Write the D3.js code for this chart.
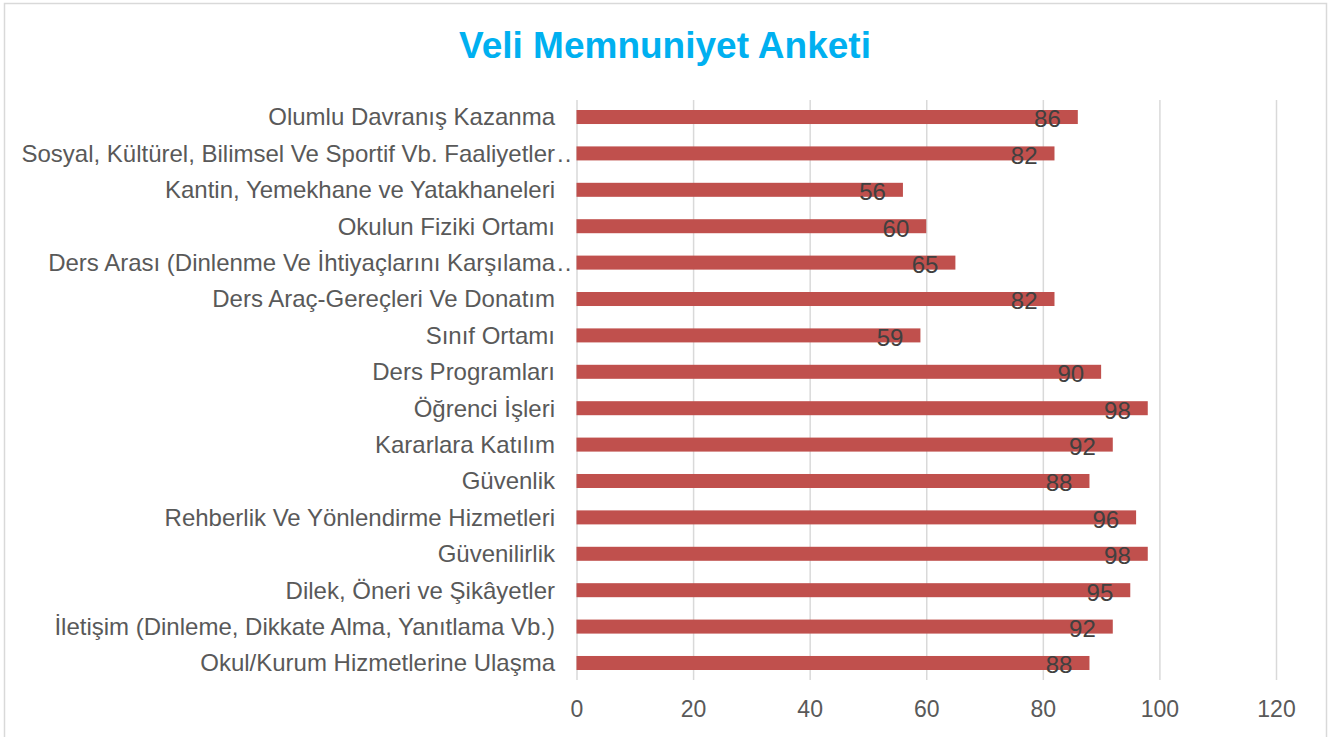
<html>
<head>
    <script src="https://d3js.org/d3.v7.min.js"></script>
    <style>
        body { margin: 0; background: #fff; }
        text { font-family: "Liberation Sans", Arial, sans-serif; }
    </style>
</head>
<body>
    <svg id="chart" width="1333" height="737"></svg>
    <script>
        // categories, top to bottom as shown
        const categories = [
            "Olumlu Davranış Kazanma",
            "Sosyal, Kültürel, Bilimsel Ve Sportif Vb. Faaliyetler..",
            "Kantin, Yemekhane ve Yatakhaneleri",
            "Okulun Fiziki Ortamı",
            "Ders Arası (Dinlenme Ve İhtiyaçlarını Karşılama..",
            "Ders Araç-Gereçleri Ve Donatım",
            "Sınıf Ortamı",
            "Ders Programları",
            "Öğrenci İşleri",
            "Kararlara Katılım",
            "Güvenlik",
            "Rehberlik Ve Yönlendirme Hizmetleri",
            "Güvenilirlik",
            "Dilek, Öneri ve Şikâyetler",
            "İletişim (Dinleme, Dikkate Alma, Yanıtlama Vb.)",
            "Okul/Kurum Hizmetlerine Ulaşma"
        ];
        const values = [86, 82, 56, 60, 65, 82, 59, 90, 98, 92, 88, 96, 98, 95, 92, 88];
        const xTicks = [0, 20, 40, 60, 80, 100, 120];
        const title = "Veli Memnuniyet Anketi";

        const data = categories.map((c, i) => ({ cat: c, val: values[i] }));

        const svg = d3.select("#chart");
        const plot = { left: 576.5, right: 1276, top: 100, bottom: 680 };

        // chart border
        svg.append("rect")
            .attr("x", 4.5).attr("y", 3.5)
            .attr("width", 1322).attr("height", 740)
            .attr("fill", "#fff")
            .attr("stroke", "#D9D9D9")
            .attr("stroke-width", 1.5);

        svg.append("text")
            .attr("x", 665).attr("y", 58)
            .attr("text-anchor", "middle")
            .attr("font-size", 37)
            .attr("font-weight", "bold")
            .attr("fill", "#00B0F0")
            .text(title);

        const x = d3.scaleLinear().domain([0, 120]).range([plot.left, plot.right]);
        const y = d3.scaleBand().domain(categories)
            .range([plot.top, plot.bottom])
            .paddingInner(0.615).paddingOuter(0.275);

        // vertical gridlines
        const grid = d3.axisBottom(x).tickValues(xTicks)
            .tickSize(-(plot.bottom - plot.top)).tickFormat("");
        svg.append("g")
            .attr("class", "gridlines")
            .attr("transform", "translate(0," + plot.bottom + ")")
            .call(grid)
            .call(g => g.select(".domain").remove())
            .call(g => g.selectAll("line").attr("stroke", "#D9D9D9").attr("stroke-width", 1.5));

        // x tick labels
        const bottomAxis = d3.axisBottom(x).tickValues(xTicks).tickSize(0).tickPadding(0);
        svg.append("g")
            .attr("transform", "translate(0," + 701 + ")")
            .call(bottomAxis)
            .call(g => g.select(".domain").remove())
            .call(g => g.selectAll("text")
                .attr("font-size", 23)
                .attr("font-family", "Liberation Sans, Arial, sans-serif")
                .attr("fill", "#595959"));

        // bars
        svg.append("g").selectAll("rect")
            .data(data)
            .join("rect")
            .attr("x", x(0))
            .attr("y", d => y(d.cat))
            .attr("width", d => x(d.val) - x(0))
            .attr("height", y.bandwidth())
            .attr("fill", "#C0504D");

        // category labels
        const labels = svg.append("g");
        data.forEach(d => {
            const cy = y(d.cat) + y.bandwidth() / 2;
            const cut = d.cat.endsWith("..");
            labels.append("text")
                .attr("x", 555)
                .attr("y", cy)
                .attr("dy", "0.35em")
                .attr("text-anchor", "end")
                .attr("font-size", 24)
                .attr("fill", "#595959")
                .text(cut ? d.cat.slice(0, -2) : d.cat);
            if (cut) {
                labels.append("text")
                    .attr("x", 557)
                    .attr("y", cy)
                    .attr("dy", "0.35em")
                    .attr("font-size", 24)
                    .attr("letter-spacing", 1)
                    .attr("fill", "#595959")
                    .text("..");
            }
        });

        // value labels, inside end
        svg.append("g").selectAll("text")
            .data(data)
            .join("text")
            .attr("x", d => x(d.val) - 17)
            .attr("y", d => y(d.cat) + y.bandwidth() / 2 + 2)
            .attr("dy", "0.35em")
            .attr("text-anchor", "end")
            .attr("font-size", 24)
            .attr("fill", "#404040")
            .text(d => d.val);
    </script>
</body>
</html>
